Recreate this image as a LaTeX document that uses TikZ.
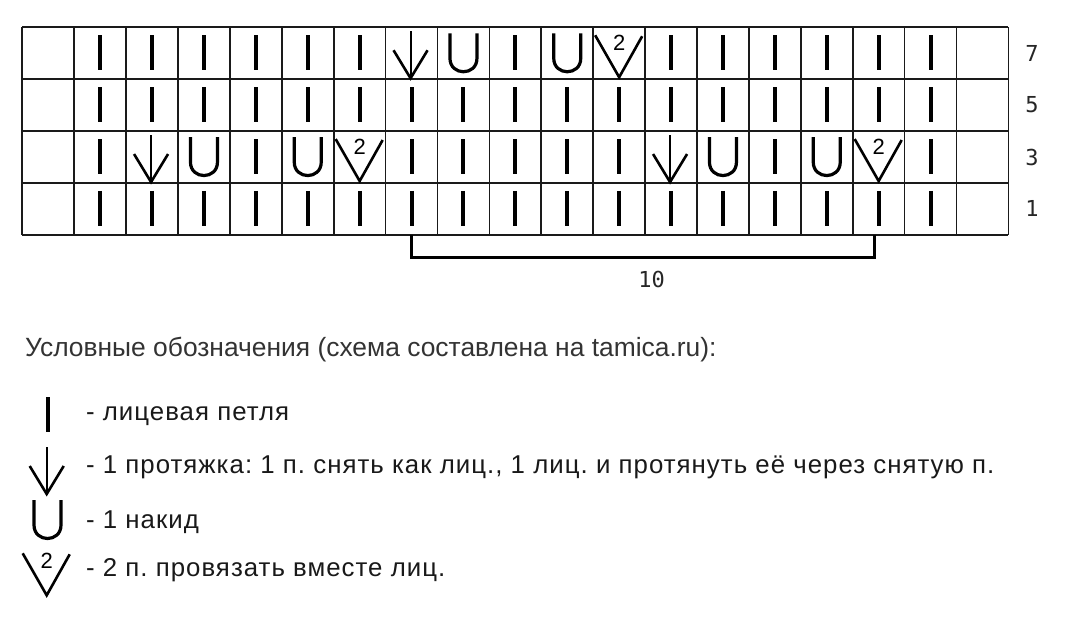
\documentclass[tikz,border=0pt]{standalone}
\usepackage{fontspec}
\setmainfont{Liberation Sans}
\newfontfamily\rownumfont{DejaVu Sans Mono}
\newfontfamily\legendfont[LetterSpace=4]{Liberation Sans}
\definecolor{titleColor}{HTML}{333333}
\definecolor{gridColor}{HTML}{1A1A1A}
\newcommand{\cellsize}{51.9}
\frenchspacing

\tikzset{
  gridline/.style={draw=gridColor, line width=0.85pt},
  rownum/.style={font=\rownumfont\fontsize{11}{11}\selectfont, text=black!85},
  legendtext/.style={anchor=base west, font=\legendfont\fontsize{12.9}{14}\selectfont, text=black!90},
  knit/.pic={\draw[line width=2pt] (0,-18) -- (0,17);},
  slipst/.pic={\draw[line width=1pt] (-1,-22) -- (-1,25);
    \draw[line width=1.3pt] (-18,-3) -- (-1,25) -- (16,-3);},
  yarnover/.pic={\draw[line width=1.6pt] (-13.5,-20) -- (-13.5,5) .. controls (-13.5,23) and (13.5,23) .. (13.5,5) -- (13.5,-20);},
  ktwotog/.pic={\draw[line width=1.3pt] (-24,-18) -- (0,24) -- (23,-17);
    \node[font=\fontsize{11}{11}\selectfont, inner sep=0pt] (two) at (0,-10.5) {2};},
}

\begin{document}
\begin{tikzpicture}[x=0.5pt, y=-0.5pt]
      \useasboundingbox (0,0) rectangle (1080,628);

      \foreach \c in {0,...,18} \foreach \r in {0,...,3}
        \coordinate (c\c-\r) at ({22.3+(\c+0.5)*\cellsize},{27.3+(\r+0.5)*\cellsize});

      \foreach \i in {0,...,19} \draw[gridline] ({22.3+\i*\cellsize},27.3) -- ++(0,4*\cellsize);
      \foreach \j in {0,...,4} \draw[gridline] (22.3,{27.3+\j*\cellsize}) -- ++(19*\cellsize,0);

      % row 7
      \foreach \c in {1,2,3,4,5,6,9,12,13,14,15,16,17} \pic at (c\c-0) {knit};
      \pic at (c7-0) {slipst};
      \pic at (c8-0) {yarnover};
      \pic at (c10-0) {yarnover};
      \pic at (c11-0) {ktwotog};

      % rows 5 and 1
      \foreach \c in {1,...,17} \pic at (c\c-1) {knit};
      \foreach \c in {1,...,17} \pic at (c\c-3) {knit};

      % row 3
      \foreach \c in {1,4,7,8,9,10,11,14,17} \pic at (c\c-2) {knit};
      \pic at (c2-2) {slipst};
      \pic at (c12-2) {slipst};
      \pic at (c3-2) {yarnover};
      \pic at (c5-2) {yarnover};
      \pic at (c13-2) {yarnover};
      \pic at (c15-2) {yarnover};
      \pic at (c6-2) {ktwotog};
      \pic at (c16-2) {ktwotog};

      \node[rownum] (row7) at (1032,53.2) {7};
      \node[rownum] (row5) at (1032,105.1) {5};
      \node[rownum] (row3) at (1032,157) {3};
      \node[rownum] (row1) at (1032,208.9) {1};

      \coordinate (repL) at (411.5,235);
      \coordinate (repR) at (874.3,235);
      \draw[line width=1.5pt] (repL) -- ++(0,22) -| (repR);
      \node[rownum] (repeat) at (651.7,279) {10};

      \node[anchor=base west, text=titleColor, font=\fontsize{13.2}{16}\selectfont] (title) at (18,356) {Условные обозначения (схема составлена на tamica.ru):};

      \pic at (48.3,415) {knit};
      \pic at (47.7,469) {slipst};
      \pic at (47.5,520) {yarnover};
      \pic at (46.7,571.3) {ktwotog};

      \node[legendtext] (leg1) at (79,420) {- лицевая петля};
      \node[legendtext] (leg2) at (79,473.3) {- 1 протяжка: 1 п. снять как лиц., 1 лиц. и протянуть её через снятую п.};
      \node[legendtext] (leg3) at (79,528.3) {- 1 накид};
      \node[legendtext] (leg4) at (79,576.7) {- 2 п. провязать вместе лиц.};
\end{tikzpicture}
\end{document}
